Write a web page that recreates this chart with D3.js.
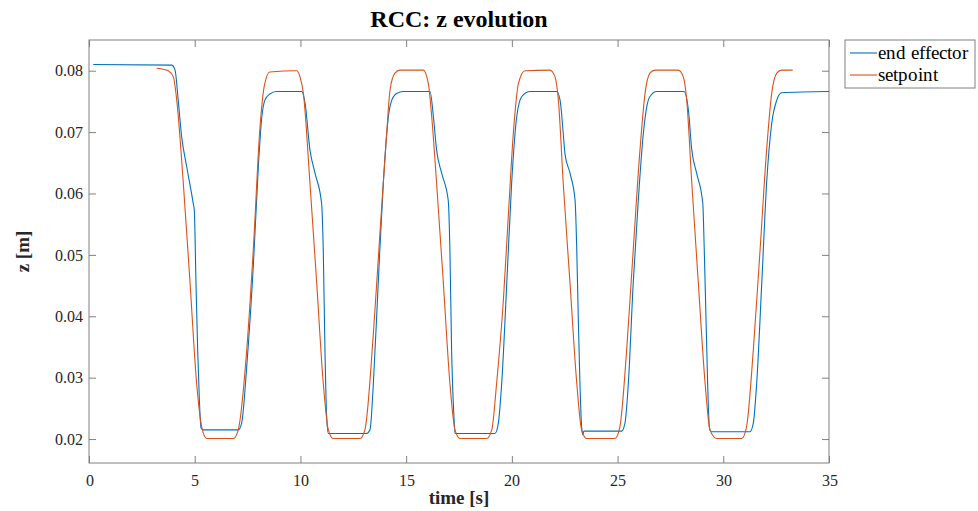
<!DOCTYPE html>
<html>
<head>
<meta charset="utf-8">
<script src="https://cdn.jsdelivr.net/npm/d3@7"></script>
<style>
@font-face {
	font-family: "SerifReg";
	font-weight: normal;
	src: local("Liberation Serif"), local("LiberationSerif"), local("LiberationSerif-Regular"),
		local("Liberation Serif Regular"), local("DejaVu Serif"), local("DejaVuSerif"), local("Noto Serif");
}
body { margin: 0; background: #fff; }
</style>
</head>
<body>
<svg class="chart"></svg>
<script>
// tick labels
var xTicks = [0, 5, 10, 15, 20, 25, 30, 35];
var yTicks = [0.02, 0.03, 0.04, 0.05, 0.06, 0.07, 0.08];

// setpoint
var spT = [3.20, 3.55, 3.75, 3.99, 4.15, 4.46, 4.78, 5.09, 5.33, 5.57, 6.83, 7.06, 7.46, 7.77, 8.09, 8.30, 8.55,
	9.82, 9.98, 10.14, 10.45, 10.77, 11.08, 11.32, 11.55, 12.82, 13.05, 13.45, 13.76, 14.08, 14.24, 14.47, 14.71,
	15.81, 16.05, 16.21, 16.44, 16.76, 17.07, 17.31, 17.55, 18.81, 19.05, 19.28, 19.60, 19.83, 20.07, 20.31, 20.62,
	21.80, 22.04, 22.20, 22.43, 22.75, 23.07, 23.30, 23.54, 24.88, 25.11, 25.43, 25.74, 26.06, 26.30, 26.53, 26.77,
	27.87, 28.11, 28.27, 28.51, 28.82, 29.14, 29.37, 29.69, 30.87, 31.10, 31.42, 31.74, 32.05, 32.29, 32.53, 32.76, 33.28];
var spZ = [0.0804, 0.0802, 0.0800, 0.0790, 0.0752, 0.0617, 0.0454, 0.0291, 0.0220, 0.0201, 0.0201, 0.0215, 0.0345, 0.0508, 0.0709, 0.0777, 0.0798,
	0.0800, 0.0790, 0.0763, 0.0617, 0.0454, 0.0291, 0.0215, 0.0201, 0.0201, 0.0215, 0.0372, 0.0535, 0.0698, 0.0769, 0.0796, 0.0801,
	0.0801, 0.0779, 0.0725, 0.0617, 0.0454, 0.0291, 0.0215, 0.0201, 0.0201, 0.0215, 0.0291, 0.0427, 0.0562, 0.0698, 0.0779, 0.0800,
	0.0801, 0.0790, 0.0752, 0.0617, 0.0454, 0.0291, 0.0215, 0.0201, 0.0201, 0.0220, 0.0345, 0.0508, 0.0671, 0.0763, 0.0796, 0.0801,
	0.0801, 0.0790, 0.0752, 0.0617, 0.0454, 0.0291, 0.0215, 0.0201, 0.0201, 0.0220, 0.0345, 0.0508, 0.0671, 0.0763, 0.0796, 0.0801, 0.0801];

// end effector
var effT = [0.20, 3.91, 4.07, 4.22, 4.38, 4.62, 4.93, 4.98, 5.06, 5.14, 5.22, 5.30, 5.41, 7.06, 7.22, 7.46, 7.77, 8.01, 8.16, 8.32, 8.55, 8.87,
	10.06, 10.22, 10.45, 10.69, 11.00, 11.08, 11.16, 11.24, 11.32, 13.13, 13.29, 13.45, 13.68, 13.92, 14.16, 14.32, 14.55, 14.87,
	16.13, 16.29, 16.44, 16.68, 16.99, 17.07, 17.15, 17.26, 17.31, 19.20, 19.36, 19.52, 19.76, 19.99, 20.23, 20.47, 20.86,
	22.12, 22.28, 22.43, 22.51, 22.75, 22.99, 23.07, 23.14, 23.22, 23.30, 23.35, 23.41, 25.19, 25.35, 25.51, 25.74, 25.98, 26.22, 26.38, 26.53, 26.85,
	28.14, 28.35, 28.51, 28.74, 29.03, 29.10, 29.18, 29.26, 29.34, 29.41, 31.26, 31.42, 31.58, 31.82, 32.05, 32.29, 32.53, 32.76, 35.00];
var effZ = [0.0810, 0.0809, 0.0801, 0.0752, 0.0693, 0.0644, 0.0584, 0.0573, 0.0454, 0.0345, 0.0264, 0.0218, 0.0215, 0.0215, 0.0226, 0.0318, 0.0481, 0.0644, 0.0720, 0.0752, 0.0762, 0.0766,
	0.0766, 0.0747, 0.0671, 0.0633, 0.0584, 0.0508, 0.0345, 0.0237, 0.0209, 0.0209, 0.0215, 0.0291, 0.0454, 0.0617, 0.0725, 0.0752, 0.0763, 0.0766,
	0.0766, 0.0725, 0.0671, 0.0633, 0.0589, 0.0508, 0.0345, 0.0237, 0.0209, 0.0209, 0.0226, 0.0291, 0.0454, 0.0617, 0.0725, 0.0758, 0.0766,
	0.0766, 0.0752, 0.0698, 0.0665, 0.0633, 0.0589, 0.0508, 0.0400, 0.0291, 0.0220, 0.0207, 0.0213, 0.0213, 0.0226, 0.0291, 0.0454, 0.0589, 0.0698, 0.0741, 0.0758, 0.0766,
	0.0766, 0.0736, 0.0671, 0.0633, 0.0584, 0.0508, 0.0400, 0.0291, 0.0220, 0.0212, 0.0212, 0.0226, 0.0291, 0.0454, 0.0617, 0.0714, 0.0752, 0.0764, 0.0766];

var series = [
	{name: "end effector", t: effT, z: effZ, color: "#0072BD"},
	{name: "setpoint", t: spT, z: spZ, color: "#D95319"}
];

var width = 978, height = 511;
var margin = {top: 40, right: 149, bottom: 48, left: 89};
var axisCol = "#808080";
var serif = "SerifReg, Liberation Serif, Tinos, Times New Roman, Noto Serif, DejaVu Serif, serif";

var x = d3.scaleLinear()
	.domain([0, 35])
	.range([margin.left, width - margin.right]);

var y = d3.scaleLinear()
	.domain([0.0161, 0.085])
	.range([height - margin.bottom, margin.top]);

var svg = d3.select(".chart")
	.attr("width", width)
	.attr("height", height)
	.attr("font-family", serif);

var x0 = x.range()[0], x1 = x.range()[1], y0 = y.range()[0], y1 = y.range()[1];

// inward ticks on all four sides (box on)
function styleAxis(g) {
	g.attr("font-family", serif).attr("font-size", 16);
	g.select(".domain").remove();
	g.selectAll(".tick line").attr("stroke", axisCol);
	g.selectAll(".tick text").attr("fill", "#262626");
}

svg.append("g")
	.attr("transform", `translate(0,${y0})`)
	.call(d3.axisBottom(x).tickValues(xTicks).tickSize(-7).tickPadding(12).tickFormat(d3.format("d")))
	.call(styleAxis);
svg.append("g")
	.attr("transform", `translate(0,${y1})`)
	.call(d3.axisTop(x).tickValues(xTicks).tickSize(-7).tickFormat(""))
	.call(styleAxis);
svg.append("g")
	.attr("transform", `translate(${x0},0)`)
	.call(d3.axisLeft(y).tickValues(yTicks).tickSize(-7).tickPadding(6).tickFormat(d3.format(".2f")))
	.call(styleAxis);
svg.append("g")
	.attr("transform", `translate(${x1},0)`)
	.call(d3.axisRight(y).tickValues(yTicks).tickSize(-7).tickFormat(""))
	.call(styleAxis);

svg.append("rect")
	.attr("x", x0).attr("y", y1)
	.attr("width", x1 - x0).attr("height", y0 - y1)
	.attr("fill", "none").attr("stroke", axisCol).attr("stroke-width", 1);

var line = d3.line()
	.x(d => x(d[0]))
	.y(d => y(d[1]))
	.curve(d3.curveMonotoneX);

svg.append("g")
	.selectAll("path").data(series).enter().append("path")
		.attr("d", s => line(s.t.map((t, i) => [t, s.z[i]])))
		.attr("fill", "none")
		.attr("stroke", s => s.color)
		.attr("stroke-width", 1.1);

// titles
svg.append("text")
	.attr("x", (x0 + x1) / 2).attr("y", 27)
	.attr("text-anchor", "middle")
	.attr("font-size", 24).attr("font-weight", "bold").attr("fill", "#000")
	.attr("font-family", "Liberation Serif, serif")
	.text("RCC: z evolution");

svg.append("text")
	.attr("x", (x0 + x1) / 2).attr("y", 504)
	.attr("text-anchor", "middle")
	.attr("font-size", 19).attr("font-weight", "bold").attr("fill", "#262626")
	.attr("font-family", "Liberation Serif, serif")
	.text("time [s]");

svg.append("text")
	.attr("transform", `translate(29,${(y0 + y1) / 2}) rotate(-90)`)
	.attr("text-anchor", "middle")
	.attr("font-size", 19).attr("font-weight", "bold").attr("fill", "#262626")
	.attr("font-family", "Liberation Serif, serif")
	.text("z [m]");

// legend
var leg = svg.append("g").attr("transform", "translate(845,40)");
leg.append("rect")
	.attr("width", 130).attr("height", 48)
	.attr("fill", "#fff").attr("stroke", axisCol);
var item = leg.selectAll("g.item").data(series).enter().append("g")
	.attr("class", "item")
	.attr("transform", (d, i) => `translate(0,${13 + i * 22})`);
item.append("line")
	.attr("x1", 5).attr("x2", 32)
	.attr("stroke", d => d.color).attr("stroke-width", 1.1);
item.append("text")
	.attr("x", 33).attr("dy", "0.33em")
	.attr("font-size", 19).attr("fill", "#000")
	.text(d => d.name);
</script>
</body>
</html>
